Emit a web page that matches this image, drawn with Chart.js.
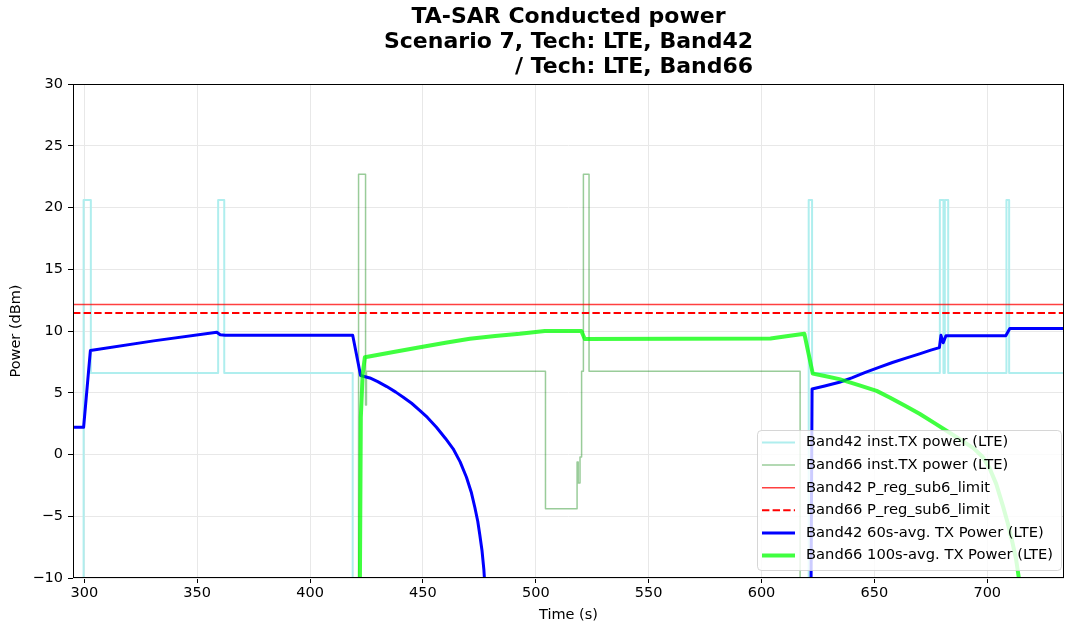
<!DOCTYPE html>
<html>
<head>
<meta charset="utf-8">
<script src="https://cdn.jsdelivr.net/npm/chart.js@4.4.1/dist/chart.umd.min.js"></script>
<style>
  html, body { margin: 0; padding: 0; background: #ffffff; }
  #wrap { width: 1065px; height: 626px; }
</style>
</head>
<body>
<div id="wrap"><canvas id="c" width="1065" height="626"></canvas></div>
<script>
// ---------------- data ----------------
const titleLines = ["TA-SAR Conducted power", "Scenario 7, Tech: LTE, Band42", "/ Tech: LTE, Band66"];
const xTicks = [300, 350, 400, 450, 500, 550, 600, 650, 700];
const yTicks = [-10, -5, 0, 5, 10, 15, 20, 25, 30];
const xMin = 295, xMax = 734;
const yMin = -10, yMax = 30;

// Band42 instantaneous TX power (step, value holds until next time)
const b42InstT = [295, 299.7, 302.9, 359.3, 362.0, 418.9, 620.9, 622.4, 679.0, 680.6, 681.2, 682.7, 708.5, 709.7, 734];
const b42InstP = [-50, 20.6, 6.6, 20.6, 6.6, -50, 20.6, 6.6, 20.6, 6.6, 20.6, 6.6, 20.6, 6.6, 6.6];

// Band66 instantaneous TX power (step)
const b66InstT = [295, 421.5, 424.6, 425.0, 504.3, 518.3, 518.8, 519.6, 520.3, 521.1, 523.6, 617.1, 734];
const b66InstP = [-50, 22.7, 4.0, 6.75, -4.4, -0.6, -2.3, -0.2, 6.75, 22.7, 6.75, -50, -50];

// Regulatory limits
const limitT = [295, 734];
const b42Limit = 12.15;
const b66Limit = 11.45;

// Band42 60s average
const b42AvgT = [295, 299.7, 302.7, 330.7, 358.7, 360.2, 362.4, 418.9, 422.4, 426.5, 430, 434, 438, 441.3, 445, 448.7, 452, 456, 460, 463.4,
                 466.5, 469.3, 471.5, 473, 474.3, 475.2, 476.2, 477.0, 477.6, 478.3, 479,
                 621.1, 622.4, 628, 634.5, 640, 646, 652, 658, 664, 670, 675, 678.8, 679.5, 680.5, 681.7, 708.2, 710, 734];
const b42AvgP = [2.2, 2.2, 8.42, 9.2, 9.9, 9.7, 9.65, 9.65, 6.4, 6.2, 5.9, 5.5, 5.05, 4.64, 4.15, 3.56, 3.0, 2.21, 1.3, 0.46,
                 -0.6, -1.84, -3.1, -4.27, -5.4, -6.5, -7.8, -9.3, -11, -20, -40,
                 -40, 5.3, 5.55, 5.85, 6.2, 6.65, 7.05, 7.45, 7.8, 8.15, 8.45, 8.65, 9.65, 9.05, 9.62, 9.62, 10.2, 10.2];

// Band66 100s average
const b66AvgT = [421.2, 422.5, 423.3, 424.3, 437, 448.7, 460, 470.8, 482, 492.9, 499, 504, 520.2, 521.7, 604, 611, 619, 622.7,
                 628, 634.5, 643.4, 651, 657, 664, 670, 677, 683, 689, 694, 698, 701, 704, 707, 709, 711, 712.7, 714, 715, 716];
const b66AvgP = [-40, 3.0, 6.5, 7.88, 8.3, 8.69, 9.05, 9.37, 9.6, 9.77, 9.9, 10.0, 10.0, 9.35, 9.4, 9.58, 9.77, 6.55,
                 6.35, 6.1, 5.6, 5.15, 4.6, 3.9, 3.3, 2.5, 1.8, 1.1, 0.5, -0.2, -1.1, -2.4, -4.2, -5.5, -7.0, -8.4, -10.0, -13, -30];

// ---------------- helpers ----------------
function pts(ts, vs) { return ts.map((t, i) => ({ x: t, y: vs[i] })); }
function constPts(ts, v) { return ts.map(t => ({ x: t, y: v })); }

const FONT = "'DejaVu Sans', 'Liberation Sans', sans-serif";

const datasets = [
  { label: 'Band42 inst.TX power (LTE)', data: pts(b42InstT, b42InstP), stepped: 'before',
    borderColor: 'rgb(175,238,238)', borderWidth: 2, order: 6 },
  { label: 'Band66 inst.TX power (LTE)', data: pts(b66InstT, b66InstP), stepped: 'before',
    borderColor: 'rgba(0,128,0,0.4)', borderWidth: 1.5, order: 5 },
  { label: 'Band42 P_reg_sub6_limit', data: constPts(limitT, b42Limit),
    borderColor: 'rgba(255,0,0,0.75)', borderWidth: 1.5, order: 4 },
  { label: 'Band66 P_reg_sub6_limit', data: constPts(limitT, b66Limit),
    borderColor: 'rgb(255,0,0)', borderWidth: 2, borderDash: [7.4, 3.2], order: 3 },
  { label: 'Band42 60s-avg. TX Power (LTE)', data: pts(b42AvgT, b42AvgP),
    borderColor: 'rgb(0,0,255)', borderWidth: 3, order: 2 },
  { label: 'Band66 100s-avg. TX Power (LTE)', data: pts(b66AvgT, b66AvgP),
    borderColor: 'rgba(0,255,0,0.75)', borderWidth: 4, order: 1 }
];
datasets.forEach(d => { d.pointRadius = 0; d.tension = 0; d.fill = false; d.clip = 0; d.borderCapStyle = 'butt'; d.borderJoinStyle = 'round'; });

// ---------------- plugins ----------------
const framePlugin = {
  id: 'frame',
  afterDatasetsDraw(chart) {
    const { ctx, chartArea: a } = chart;
    ctx.save();
    ctx.strokeStyle = '#000';
    ctx.lineWidth = 1;
    ctx.strokeRect(Math.round(a.left) + 0.5, Math.round(a.top) + 0.5, Math.round(a.right - a.left) - 1, Math.round(a.bottom - a.top) - 1);
    ctx.restore();
  }
};

const titlePlugin = {
  id: 'mtitle',
  afterDraw(chart) {
    const { ctx, chartArea: a } = chart;
    const cx = (a.left + a.right) / 2;
    ctx.save();
    ctx.fillStyle = '#000';
    ctx.font = "bold 22px " + FONT;
    ctx.textBaseline = 'middle';
    ctx.textAlign = 'center';
    ctx.fillText(titleLines[0], cx, 17);
    ctx.fillText(titleLines[1], cx, 42);
    const w2 = ctx.measureText(titleLines[1]).width;
    ctx.textAlign = 'right';
    ctx.fillText(titleLines[2], cx + w2 / 2, 67);
    ctx.restore();
  }
};

const legendPlugin = {
  id: 'mlegend',
  afterDraw(chart) {
    const ctx = chart.ctx;
    const bx = 757.5, by = 430.5, bw = 304, bh = 140, r = 4;
    ctx.save();
    ctx.beginPath();
    ctx.moveTo(bx + r, by);
    ctx.lineTo(bx + bw - r, by);
    ctx.quadraticCurveTo(bx + bw, by, bx + bw, by + r);
    ctx.lineTo(bx + bw, by + bh - r);
    ctx.quadraticCurveTo(bx + bw, by + bh, bx + bw - r, by + bh);
    ctx.lineTo(bx + r, by + bh);
    ctx.quadraticCurveTo(bx, by + bh, bx, by + bh - r);
    ctx.lineTo(bx, by + r);
    ctx.quadraticCurveTo(bx, by, bx + r, by);
    ctx.closePath();
    ctx.fillStyle = 'rgba(255,255,255,0.8)';
    ctx.fill();
    ctx.strokeStyle = 'rgba(204,204,204,0.8)';
    ctx.lineWidth = 1;
    ctx.stroke();
    ctx.font = "14.7px " + FONT;
    ctx.textBaseline = 'middle';
    ctx.textAlign = 'left';
    chart.data.datasets.forEach((d, i) => {
      const y = 442.5 + i * 22.6;
      ctx.beginPath();
      ctx.setLineDash(d.borderDash || []);
      ctx.strokeStyle = d.borderColor;
      ctx.lineWidth = d.borderWidth;
      ctx.moveTo(762, y);
      ctx.lineTo(795, y);
      ctx.stroke();
      ctx.setLineDash([]);
      ctx.fillStyle = '#000';
      ctx.fillText(d.label, 806, y);
    });
    ctx.restore();
  }
};

// ---------------- chart ----------------
const fmt = v => (v < 0 ? '\u2212' + Math.abs(v) : String(v));
const TICKSIZE = 14.5;

new Chart(document.getElementById('c'), {
  type: 'line',
  data: { datasets },
  plugins: [framePlugin, titlePlugin, legendPlugin],
  options: {
    responsive: false,
    animation: false,
    devicePixelRatio: 1,
    layout: { padding: { top: 84, right: 1, bottom: 0, left: 0 } },
    plugins: { legend: { display: false }, title: { display: false }, tooltip: { enabled: false } },
    scales: {
      x: {
        type: 'linear', min: xMin, max: xMax,
        afterFit: s => { s.height = 48; },
        afterBuildTicks: s => { s.ticks = xTicks.map(v => ({ value: v })); },
        grid: { color: '#e8e8e8', lineWidth: 1, tickColor: '#000', tickLength: 5, drawTicks: true },
        border: { display: false },
        ticks: { font: { family: FONT, size: TICKSIZE }, color: '#000', padding: 2, maxRotation: 0, autoSkip: false, callback: v => fmt(v) },
        title: { display: true, text: 'Time (s)', font: { family: FONT, size: TICKSIZE }, color: '#000', padding: { top: 4, bottom: 2 } }
      },
      y: {
        type: 'linear', min: yMin, max: yMax,
        afterFit: s => { s.width = 73; },
        afterBuildTicks: s => { s.ticks = yTicks.map(v => ({ value: v })); },
        grid: { color: '#e8e8e8', lineWidth: 1, tickColor: '#000', tickLength: 5, drawTicks: true },
        border: { display: false },
        ticks: { font: { family: FONT, size: TICKSIZE }, color: '#000', padding: 5, callback: v => fmt(v) },
        title: { display: true, text: 'Power (dBm)', font: { family: FONT, size: TICKSIZE }, color: '#000', padding: { top: 8, bottom: 4 } }
      }
    }
  }
});
</script>
</body>
</html>
